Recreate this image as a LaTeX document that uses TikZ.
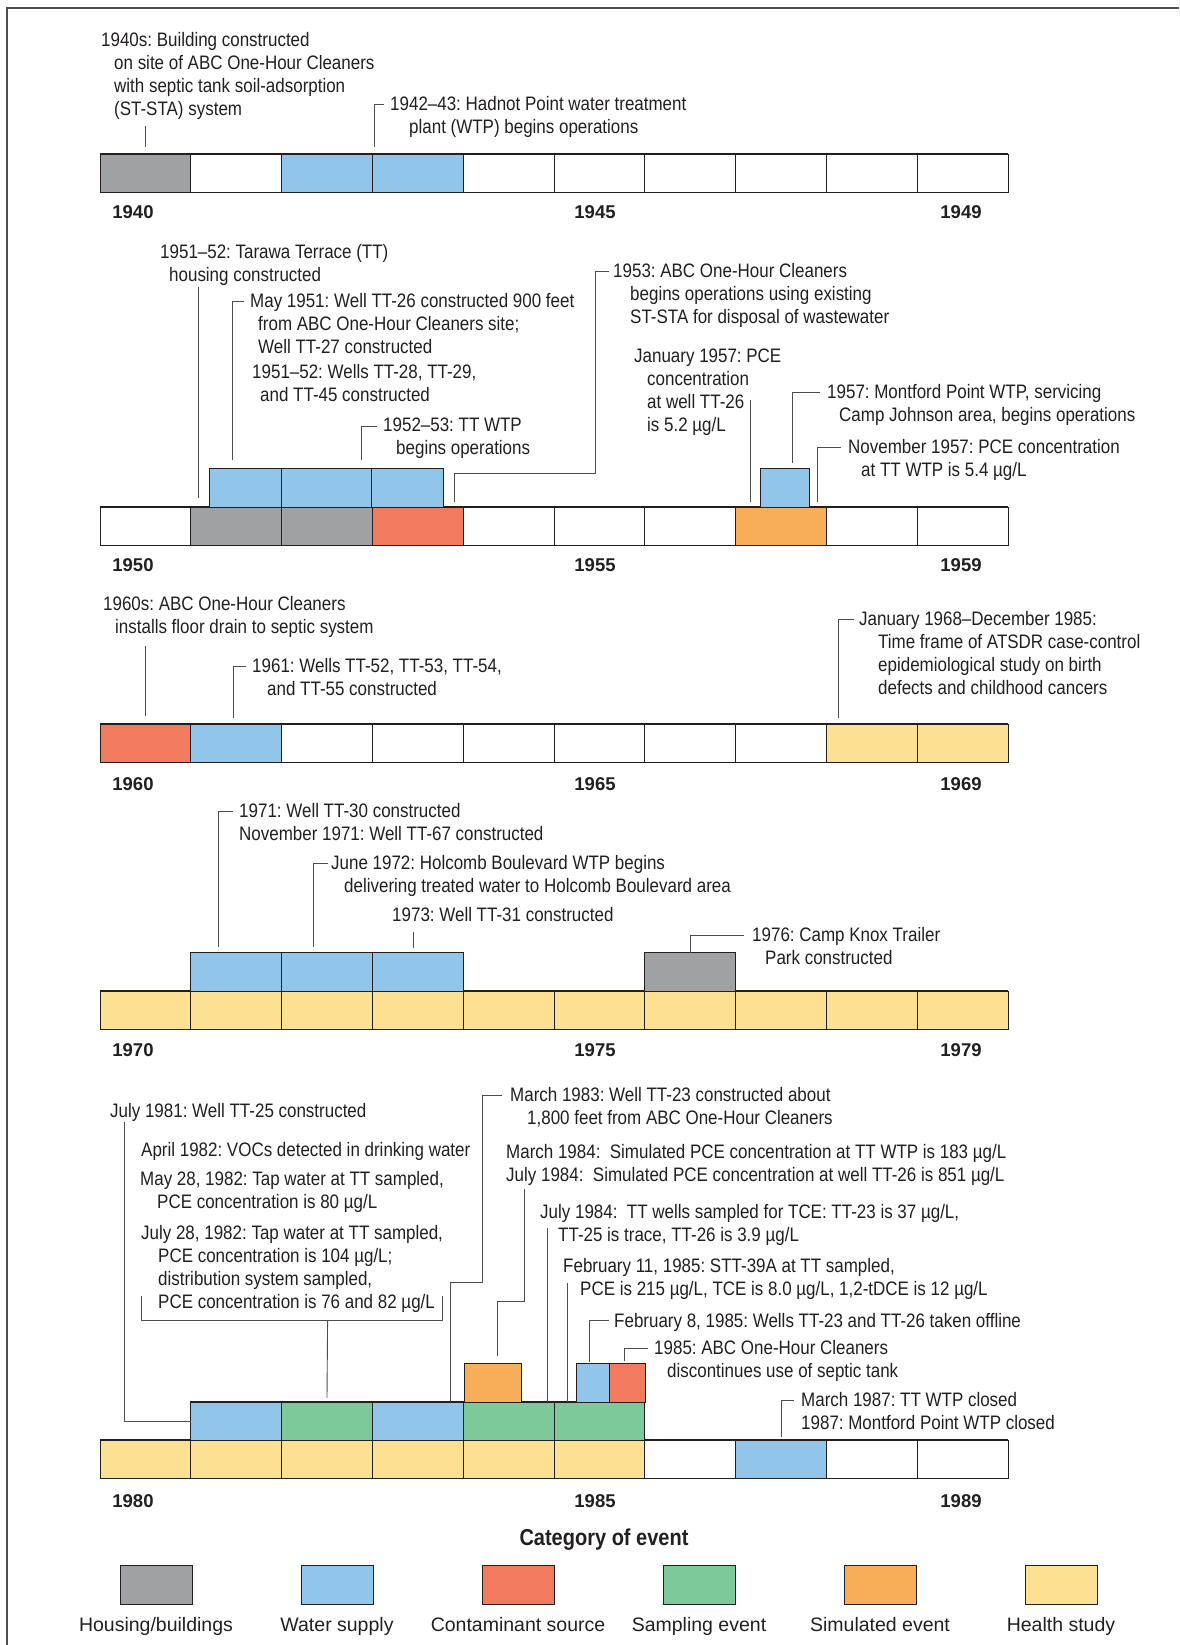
\documentclass[tikz,border=0pt]{standalone}
\usepackage{fontspec}
\setmainfont{Liberation Sans}[FakeStretch=0.87]
\newfontfamily\plainsans{Liberation Sans}
\usetikzlibrary{positioning}
\usetikzlibrary{calc}
\usepackage{xcolor}
\frenchspacing

\definecolor{housing}{HTML}{A0A1A4}
\definecolor{water}{HTML}{92C5EA}
\definecolor{contam}{HTML}{F27A5E}
\definecolor{sampling}{HTML}{7DC99A}
\definecolor{simulated}{HTML}{F8AE58}
\definecolor{health}{HTML}{FDE193}
\definecolor{ink}{HTML}{231F20}

\newcommand{\evfont}{\fontsize{19.5}{22.9}\selectfont}

% one decade: ten yearly cells, #2 = top edge of the bar
\newcommand{\decade}[3]{%
  \foreach \c [count=\i from 0] in {#3} {
    \node[cell, fill=\c] (#1-\i) at ({145.4+90.8*\i}, #2+19.25) {};
  }
  \draw[barline] (100,#2) -- (1008,#2);
  \draw[barline] (100,#2+38.5) -- (1008,#2+38.5);
}

\begin{document}
\begin{tikzpicture}[
		x=1pt, y=-1pt,
		% compact style definitions
		cell/.style={draw=ink, line width=0.8pt, minimum width=90.8pt, minimum height=38.5pt, inner sep=0pt, outer sep=0pt},
		box/.style={draw=ink, line width=0.8pt, minimum height=38.5pt, inner sep=0pt, outer sep=0pt, anchor=south west},
		barline/.style={draw=ink, line width=1.8pt},
		ev/.style={anchor=north west, align=left, inner sep=0pt, font=\evfont, text=ink, execute at begin node={\rule{0pt}{15pt}}},
		yr/.style={inner sep=0pt, font=\plainsans\bfseries\fontsize{18.5}{20}\selectfont, text=ink},
		lead/.style={draw=ink!80, line width=0.9pt},
		swatch/.style={draw=ink, line width=1pt, minimum width=72pt, minimum height=39pt, inner sep=0pt, outer sep=0pt},
		legtext/.style={inner sep=0pt, font=\plainsans\fontsize{19.5}{22}\selectfont, text=ink},
		]
		\useasboundingbox (0,0) rectangle (1179,1645);
		\draw[ink!80, line width=1.2pt] (7,1645) -- (7,8) -- (1179,8);

		% 1940s
		\decade{r40}{154}{housing,white,water,water,white,white,white,white,white,white}
		\node[yr] (y40a) at (133,212) {1940};
		\node[yr] (y40b) at (595,212) {1945};
		\node[yr] (y40c) at (961,212) {1949};

		\node[ev] (t40s) at (101,32) {1940s: Building constructed\\\hspace*{13pt}on site of ABC One-Hour Cleaners\\\hspace*{13pt}with septic tank soil-adsorption\\\hspace*{13pt}(ST-STA) system};
		\node[ev] (t4243) at (390,96) {1942–43: Hadnot Point water treatment\\\hspace*{19pt}plant (WTP) begins operations};

		\coordinate (p40s) at (145,147);
		\coordinate (p4243) at (374,147);
		\draw[lead] ($(t40s.south -| p40s)+(0,7)$) -- (p40s);
		\draw[lead] (p4243) |- ([xshift=-6pt,yshift=-8pt]t4243.north west);

		% 1950s
		\decade{r50}{507}{white,housing,housing,contam,white,white,white,simulated,white,white}
		\node[box, fill=water, minimum width=72pt] (u50a) at (209,507) {};
		\node[box, fill=water, minimum width=90pt] (u50b) at (281,507) {};
		\node[box, fill=water, minimum width=72pt] (u50c) at (371,507) {};
		\node[box, fill=water, minimum width=49pt] (u57) at (760,507) {};
		\draw[barline] (u50a.north west) -- (u50c.north east);
		\draw[barline] (u57.north west) -- (u57.north east);
		\node[yr] (y50a) at (133,565) {1950};
		\node[yr] (y50b) at (595,565) {1955};
		\node[yr] (y50c) at (961,565) {1959};

		\node[ev] (t5152) at (160,244) {1951–52: Tarawa Terrace (TT)\\\hspace*{9pt}housing constructed};
		\node[ev] (t51) at (250,293) {May 1951: Well TT-26 constructed 900 feet\\\hspace*{8pt}from ABC One-Hour Cleaners site;\\\hspace*{8pt}Well TT-27 constructed};
		\node[ev] (t5152w) at (252,364) {1951–52: Wells TT-28, TT-29,\\\hspace*{8pt}and TT-45 constructed};
		\node[ev] (t5253) at (383,418) {1952–53: TT WTP\\\hspace*{13pt}begins operations};
		\node[ev] (t53) at (613,263) {1953: ABC One-Hour Cleaners\\\hspace*{17pt}begins operations using existing\\\hspace*{17pt}ST-STA for disposal of wastewater};
		\node[ev] (t57a) at (634,349) {January 1957: PCE\\\hspace*{13pt}concentration\\\hspace*{13pt}at well TT-26\\\hspace*{13pt}is 5.2 µg/L};
		\node[ev] (t57b) at (827,384) {1957: Montford Point WTP, servicing\\\hspace*{12pt}Camp Johnson area, begins operations};
		\node[ev] (t57c) at (848,439) {November 1957: PCE concentration\\\hspace*{13pt}at TT WTP is 5.4 µg/L};

		\coordinate (p5152) at (198,498);
		\coordinate (p51) at (232,460);
		\coordinate (p5253) at (361,460);
		\coordinate (p53) at (454,502);
		\coordinate (k53) at (595,473);
		\coordinate (q57a) at (750,400);
		\coordinate (p57a) at (750,502);
		\coordinate (p57b) at (792,463);
		\coordinate (p57c) at (817,502);
		\draw[lead] ($(t5152.south -| p5152)+(0,2)$) -- (p5152);
		\draw[lead] (p51) |- ([xshift=-6pt,yshift=-8pt]t51.north west);
		\draw[lead] (p5253) |- ([xshift=-6pt,yshift=-8pt]t5253.north west);
		\draw[lead] (p53) |- (k53) |- ([xshift=-4pt,yshift=-8pt]t53.north west);
		\draw[lead] (q57a) -- (p57a);
		\draw[lead] (p57b) |- ([xshift=-7pt,yshift=-8pt]t57b.north west);
		\draw[lead] (p57c) |- ([xshift=-7pt,yshift=-8pt]t57c.north west);

		% 1960s
		\decade{r60}{724}{contam,water,white,white,white,white,white,white,health,health}
		\node[yr] (y60a) at (133,784) {1960};
		\node[yr] (y60b) at (595,784) {1965};
		\node[yr] (y60c) at (961,784) {1969};

		\node[ev] (t60s) at (103,596) {1960s: ABC One-Hour Cleaners\\\hspace*{12pt}installs floor drain to septic system};
		\node[ev] (t61) at (252,658) {1961: Wells TT-52, TT-53, TT-54,\\\hspace*{15pt}and TT-55 constructed};
		\node[ev] (t68) at (859,611) {January 1968–December 1985:\\\hspace*{19pt}Time frame of ATSDR case-control\\\hspace*{19pt}epidemiological study on birth\\\hspace*{19pt}defects and childhood cancers};

		\coordinate (p60s) at (145,716);
		\coordinate (p61) at (233,718);
		\coordinate (p68) at (838,718);
		\draw[lead] ($(t60s.south -| p60s)+(0,9)$) -- (p60s);
		\draw[lead] (p61) |- ([xshift=-6pt,yshift=-8pt]t61.north west);
		\draw[lead] (p68) |- ([xshift=-5pt,yshift=-8pt]t68.north west);

		% 1970s
		\decade{r70}{991}{health,health,health,health,health,health,health,health,health,health}
		\foreach \i/\c in {1/water,2/water,3/water,6/housing}
			\node[cell, fill=\c] (u70-\i) at ({145.4+90.8*\i}, 971.75) {};
		\draw[barline] (u70-1.north west) -- (u70-3.north east);
		\draw[barline] (u70-6.north west) -- (u70-6.north east);
		\node[yr] (y70a) at (133,1050) {1970};
		\node[yr] (y70b) at (595,1050) {1975};
		\node[yr] (y70c) at (961,1050) {1979};

		\node[ev] (t71) at (239,803) {1971: Well TT-30 constructed\\November 1971: Well TT-67 constructed};
		\node[ev] (t72) at (331,855) {June 1972: Holcomb Boulevard WTP begins\\\hspace*{13pt}delivering treated water to Holcomb Boulevard area};
		\node[ev] (t73) at (392,906) {1973: Well TT-31 constructed};
		\node[ev] (t76) at (752,927) {1976: Camp Knox Trailer\\\hspace*{13pt}Park constructed};

		\coordinate (p71) at (218,947);
		\coordinate (p72) at (313,947);
		\coordinate (p73) at (413,948);
		\draw[lead] (p71) |- ([xshift=-6pt,yshift=-8pt]t71.north west);
		\draw[lead] (p72) |- ([xshift=-3pt,yshift=-8pt]t72.north west);
		\draw[lead] ($(t73.south -| p73)+(0,10)$) -- (p73);
		\draw[lead] (u70-6.north) |- ([xshift=-8pt,yshift=-8pt]t76.north west);

		% 1980s
		\decade{r80}{1440}{health,health,health,health,health,health,white,water,white,white}
		\foreach \i/\c in {1/water,2/sampling,3/water,4/sampling,5/sampling}
			\node[cell, fill=\c] (m80-\i) at ({145.4+90.8*\i}, 1421) {};
		\draw[barline] (m80-1.north west) -- (m80-5.north east);
		\node[box, fill=simulated, minimum width=57pt] (s83) at (464,1402) {};
		\node[box, fill=water, minimum width=33pt] (s85a) at (576,1402) {};
		\node[box, fill=contam, minimum width=36pt] (s85b) at (609,1402) {};
		\draw[barline] (s83.north west) -- (s83.north east);
		\draw[barline] (s85a.north west) -- (s85b.north east);
		\node[yr] (y80a) at (133,1501) {1980};
		\node[yr] (y80b) at (595,1501) {1985};
		\node[yr] (y80c) at (961,1501) {1989};

		\node[ev] (t81) at (110,1102) {July 1981: Well TT-25 constructed};
		\node[ev] (t82a) at (141,1141) {April 1982: VOCs detected in drinking water};
		\node[ev] (t82b) at (140,1171) {May 28, 1982: Tap water at TT sampled,\\\hspace*{17pt}PCE concentration is 80 µg/L};
		\node[ev] (t82c) at (141,1225) {July 28, 1982: Tap water at TT sampled,\\\hspace*{17pt}PCE concentration is 104 µg/L;\\\hspace*{17pt}distribution system sampled,\\\hspace*{17pt}PCE concentration is 76 and 82 µg/L};
		\node[ev] (t83) at (510,1087) {March 1983: Well TT-23 constructed about\\\hspace*{17pt}1,800 feet from ABC One-Hour Cleaners};
		\node[ev] (t84a) at (506,1144) {March 1984:\ \ Simulated PCE concentration at TT WTP is 183 µg/L\\July 1984:\ \ Simulated PCE concentration at well TT-26 is 851 µg/L};
		\node[ev] (t84b) at (540,1204) {July 1984:\ \ TT wells sampled for TCE: TT-23 is 37 µg/L,\\\hspace*{18pt}TT-25 is trace, TT-26 is 3.9 µg/L};
		\node[ev] (t85a) at (563,1258) {February 11, 1985: STT-39A at TT sampled,\\\hspace*{17pt}PCE is 215 µg/L, TCE is 8.0 µg/L, 1,2-tDCE is 12 µg/L};
		\node[ev] (t85b) at (614,1312) {February 8, 1985: Wells TT-23 and TT-26 taken offline};
		\node[ev] (t85c) at (654,1340) {1985: ABC One-Hour Cleaners\\\hspace*{13pt}discontinues use of septic tank};
		\node[ev] (t87) at (801,1392) {March 1987: TT WTP closed\\1987: Montford Point WTP closed};

		\coordinate (bl82) at (141,1296);
		\coordinate (br82) at (442,1296);
		\coordinate (bm82) at (327.6,1320);
		\coordinate (p83) at (450,1402);
		\coordinate (k83) at (482,1282);
		\coordinate (p84) at (497,1356);
		\coordinate (k84) at (524,1301);
		\coordinate (q84) at (524,1189);
		\coordinate (q84b) at (547,1228);
		\coordinate (p84b) at (547,1402);
		\coordinate (q85a) at (567,1283);
		\coordinate (p85a) at (567,1402);
		\coordinate (p85b) at (589,1362);
		\coordinate (p85c) at (624,1361);
		\coordinate (p87) at (781,1437);
		\draw[lead] ($(t81.base west)+(14,5)$) |- (m80-1.west);
		\draw[lead] (bl82) |- (bm82) -| (br82);
		\draw[lead] (bm82) -- ([yshift=4pt]m80-2.north);
		\draw[lead] (p83) |- (k83) |- ([xshift=-8pt,yshift=-8pt]t83.north west);
		\draw[lead] (p84) |- (k84) -- (q84);
		\draw[lead] (q84b) -- (p84b);
		\draw[lead] (q85a) -- (p85a);
		\draw[lead] (p85b) |- ([xshift=-5pt,yshift=-8pt]t85b.north west);
		\draw[lead] (p85c) |- ([xshift=-6.5pt,yshift=-8pt]t85c.north west);
		\draw[lead] (p87) |- ([xshift=-7pt,yshift=-8pt]t87.north west);

		% Legend
		\node[inner sep=0pt, text=ink, font=\bfseries\fontsize{23}{26}\selectfont] (legtitle) at (604,1540) {Category of event};
		\node[swatch, fill=housing] (lg1) at (156,1584.5) {};
		\node[swatch, fill=water, right=109pt of lg1] (lg2) {};
		\node[swatch, fill=contam, right=109pt of lg2] (lg3) {};
		\node[swatch, fill=sampling, right=109pt of lg3] (lg4) {};
		\node[swatch, fill=simulated, right=109pt of lg4] (lg5) {};
		\node[swatch, fill=health, right=109pt of lg5] (lg6) {};
		\node[legtext, below=13pt of lg1] (lt1) {Housing/buildings};
		\node[legtext, below=13pt of lg2] (lt2) {Water supply};
		\node[legtext, below=13pt of lg3] (lt3) {Contaminant source};
		\node[legtext, below=13pt of lg4] (lt4) {Sampling event};
		\node[legtext, below=13pt of lg5] (lt5) {Simulated event};
		\node[legtext, below=13pt of lg6] (lt6) {Health study};

	\end{tikzpicture}
\end{document}
